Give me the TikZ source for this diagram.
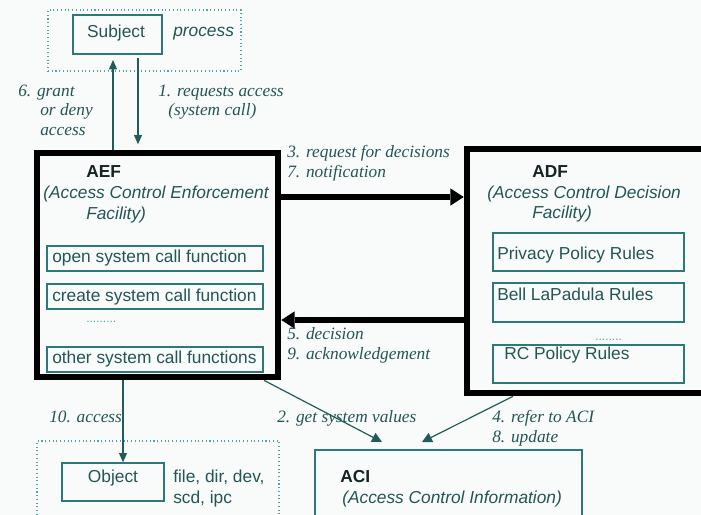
\documentclass[tikz,border=0pt]{standalone}
\usepackage{fontspec}
\setmainfont{Liberation Sans}
\newfontfamily\lblfont{Liberation Serif}
\usetikzlibrary{arrows.meta,fit}
\definecolor{bgc}{RGB}{248,251,249}
\definecolor{textc}{RGB}{35,85,85}
\definecolor{boldc}{RGB}{20,35,35}
\definecolor{linec}{RGB}{45,120,120}
\definecolor{arrc}{RGB}{35,90,90}
\definecolor{dotc}{RGB}{80,165,165}
\tikzset{
  every node/.style={inner sep=0pt, text height=0.8em, text depth=0pt, font=\fontsize{13}{15}\selectfont, text=textc},
  sans/.style={anchor=west},
  sansit/.style={anchor=west, font=\fontsize{13}{15}\selectfont\itshape},
  boldlbl/.style={anchor=west, text=boldc, font=\fontsize{13}{15}\selectfont\bfseries},
  lbl/.style={anchor=west, font=\fontsize{13}{15}\selectfont\lblfont\itshape},
  dotlbl/.style={anchor=west, text=dotc, font=\fontsize{9}{10}\selectfont},
  thinbox/.style={draw=linec, line width=1pt},
  bigbox/.style={draw=black, line width=5pt},
  dotbox/.style={draw=dotc, line width=0.8pt, dotted},
  thinarr/.style={draw=arrc, line width=0.9pt, -{Triangle[length=7pt,width=6pt]}},
  diagarr/.style={draw=arrc, line width=0.9pt, -{Triangle[length=7.5pt,width=7.5pt]}},
  thickarr/.style={draw=black, line width=4.3pt, -{Triangle[length=10pt,width=13pt,line width=0pt]}}
}
\begin{document}
\begin{tikzpicture}[x=0.75pt,y=-0.75pt]
\useasboundingbox (0,0) rectangle (701,515);
\fill[bgc] (0,0) rectangle (701,515);
\begin{scope}
\clip (0,0) rectangle (701,515);
% ---- subject group
\node[dotbox, fit={(48,10)(241,71)}] (topgrp) {};
\node[thinbox, fit={(73,15)(162,54)}] (subject) {};
\node (subjecttxt) at (116,32) {Subject};
\node[sansit] (process) at (173,31) {process};
% ---- AEF
\node[bigbox, fit={(37,153)(278,377)}] (aef) {};
\node[boldlbl] (aeft) at (86,172) {AEF};
\node[sansit] (aefs1) at (43,193) {(Access Control Enforcement};
\node[sansit] (aefs2) at (86,214) {Facility)};
\node[thinbox, fit={(47,246)(263,271)}] (openb) {};
\node[sans] (opent) at (52,257) {open system call function};
\node[thinbox, fit={(47,284)(263,309)}] (createb) {};
\node[sans] (createt) at (52,296) {create system call function};
\node[dotlbl] (aefdots) at (86,317) {.........};
\node[thinbox, fit={(47,347)(263,372)}] (otherb) {};
\node[sans] (othert) at (52,358) {other system call functions};
% ---- ADF
\node[bigbox, fit={(467,149)(725,393)}] (adf) {};
\node[boldlbl] (adft) at (532,172) {ADF};
\node[sansit] (adfs1) at (487,193) {(Access Control Decision};
\node[sansit] (adfs2) at (532,213) {Facility)};
\node[thinbox, fit={(493,233)(684,271)}] (privb) {};
\node[sans] (privt) at (497,254) {Privacy Policy Rules};
\node[thinbox, fit={(493,283)(684,322)}] (bellb) {};
\node[sans] (bellt) at (497,295) {Bell LaPadula Rules};
\node[dotlbl] (adfdots) at (595,335) {........};
\node[thinbox, fit={(493,345)(684,383)}] (rcb) {};
\node[sans] (rct) at (504,354) {RC Policy Rules};
% ---- object group
\node[dotbox, fit={(37,441)(279,530)}] (botgrp) {};
\node[thinbox, fit={(62,463)(164,501)}] (object) {};
\node (objectt) at (113,477) {Object};
\node[sans] (obj1) at (173,477) {file, dir, dev,};
\node[sans] (obj2) at (173,498) {scd, ipc};
% ---- ACI
\node[thinbox, fit={(315,450)(582,530)}] (aci) {};
\node[boldlbl] (acit) at (340,477) {ACI};
\node[sansit] (acis) at (342,498) {(Access Control Information)};
% ---- connectors
\coordinate (x6) at (113,0);
\coordinate (x1) at (138,0);
\coordinate (x10) at (123,0);
\coordinate (x2) at (264,0);
\coordinate (x4) at (513,0);
\coordinate (r37) at (0,197);
\coordinate (r59) at (0,320);
\coordinate (t2) at (382,442);
\coordinate (t4) at (422,442);
\draw[thinarr, shorten >=4pt] (aef.north -| x6) -- (subject.south -| x6);
\draw[thinarr, shorten <=2.5pt, shorten >=4pt] (subject.south -| x1) -- (aef.north -| x1);
\draw[thickarr] (aef.east |- r37) -- (adf.west |- r37);
\draw[thickarr] (adf.west |- r59) -- (aef.east |- r59);
\draw[thinarr] (aef.south -| x10) -- (object.north -| x10);
\draw[diagarr] (aef.south -| x2) -- (t2);
\draw[diagarr] (adf.south -| x4) -- (t4);
% ---- connector labels
\node[lbl] (l6a) at (18,91) {6. grant};
\node[lbl] (l6b) at (40,110) {or deny};
\node[lbl] (l6c) at (40,130) {access};
\node[lbl] (l1a) at (158,91) {1. requests access};
\node[lbl] (l1b) at (168,110) {(system call)};
\node[lbl] (l3) at (287,152) {3. request for decisions};
\node[lbl] (l7) at (287,172) {7. notification};
\node[lbl] (l5) at (287,334) {5. decision};
\node[lbl] (l9) at (287,354) {9. acknowledgement};
\node[lbl] (l10) at (49,417) {10. access};
\node[lbl] (l2) at (277,417) {2. get system values};
\node[lbl] (l4) at (492,417) {4. refer to ACI};
\node[lbl] (l8) at (492,437) {8. update};
\end{scope}
\end{tikzpicture}
\end{document}
